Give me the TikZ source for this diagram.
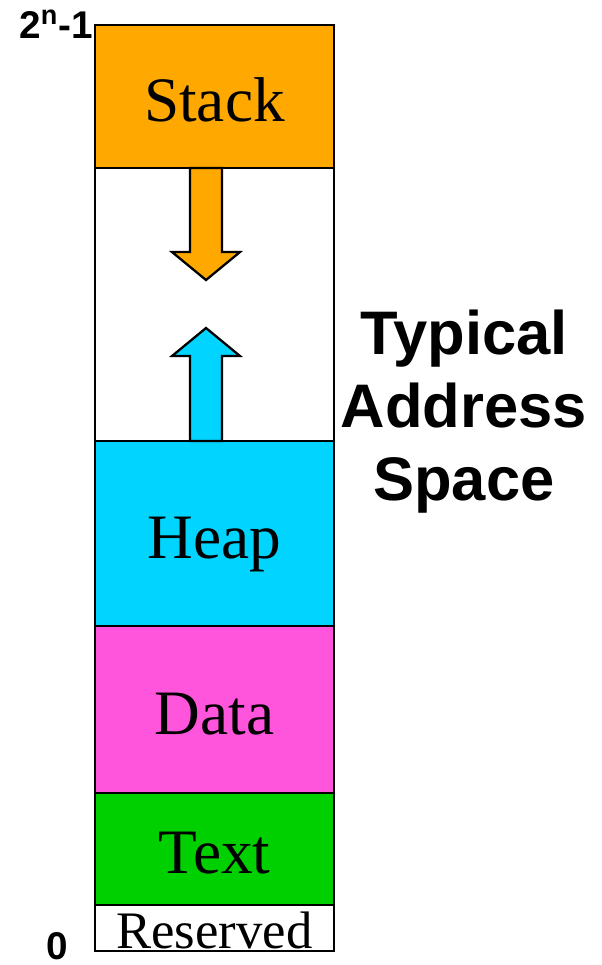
\documentclass[tikz,border=0pt]{standalone}
\usepackage{fontspec}
\setmainfont{Liberation Serif}
\newfontfamily\headsf{Liberation Sans}
\usepackage{tikz}
\usetikzlibrary{positioning}
\definecolor{stackorange}{RGB}{255,168,0}
\definecolor{heapcyan}{RGB}{0,212,255}
\definecolor{datapink}{RGB}{255,85,221}
\definecolor{textgreen}{RGB}{0,208,0}
\tikzset{
  seg/.style={rectangle, draw=black, line width=1.3pt,
    minimum width=4.78cm, inner sep=0pt, outer sep=0pt},
  seglbl/.style={inner sep=0pt, font=\fontsize{36}{40}\selectfont,
    text height=35pt, text depth=7pt},
  growarrow/.style={draw=black, line width=1.3pt, line join=miter},
  addr/.style={font=\headsf\bfseries\fontsize{22}{24}\selectfont, inner sep=0pt}
}

\begin{document}
\begin{tikzpicture}
\useasboundingbox (0,0) rectangle (12.04,-19.3);
% segments, high addresses first
\node[seg, fill=stackorange, minimum height=2.86cm, anchor=north west] (stack) at (1.9,-0.5) {};
\node[seg, minimum height=5.46cm, below=0pt of stack] (gap) {};
\node[seg, fill=heapcyan, minimum height=3.7cm, below=0pt of gap] (heap) {};
\node[seg, fill=datapink, minimum height=3.34cm, below=0pt of heap] (data) {};
\node[seg, fill=textgreen, minimum height=2.24cm, below=0pt of data] (text) {};
\node[seg, minimum height=0.92cm, below=0pt of text] (rsvd) {};
\node[seglbl] (stacklbl) at (stack) {Stack};
\node[seglbl] (heaplbl) at (heap) {Heap};
\node[seglbl] (datalbl) at (data) {Data};
\node[seglbl] (textlbl) at (text) {Text};
\node[seglbl, font=\fontsize{30}{32}\selectfont, text height=29pt, text depth=6pt] (rsvdlbl) at (rsvd) {Reserved};
% stack grows down, heap grows up
\draw[growarrow, fill=stackorange] (3.8,-3.36) -- (3.8,-5.04) -- (3.44,-5.04) -- (4.12,-5.6)
  -- (4.8,-5.04) -- (4.44,-5.04) -- (4.44,-3.36) -- cycle;
\draw[growarrow, fill=heapcyan] (3.8,-8.82) -- (3.8,-7.12) -- (3.44,-7.12) -- (4.12,-6.56)
  -- (4.8,-7.12) -- (4.44,-7.12) -- (4.44,-8.82) -- cycle;
% address range
\node[addr, anchor=base east] (hiaddr) at (1.86,-0.76) {2\textsuperscript{n}-1};
\node[addr, anchor=base east] (loaddr) at (1.36,-19.18) {0};
\node[font=\headsf\bfseries\fontsize{35}{41.5}\selectfont, align=center,
  inner sep=0pt, anchor=north] (title) at (9.28,-6.2) {Typical\\Address\\Space};
\end{tikzpicture}
\end{document}
